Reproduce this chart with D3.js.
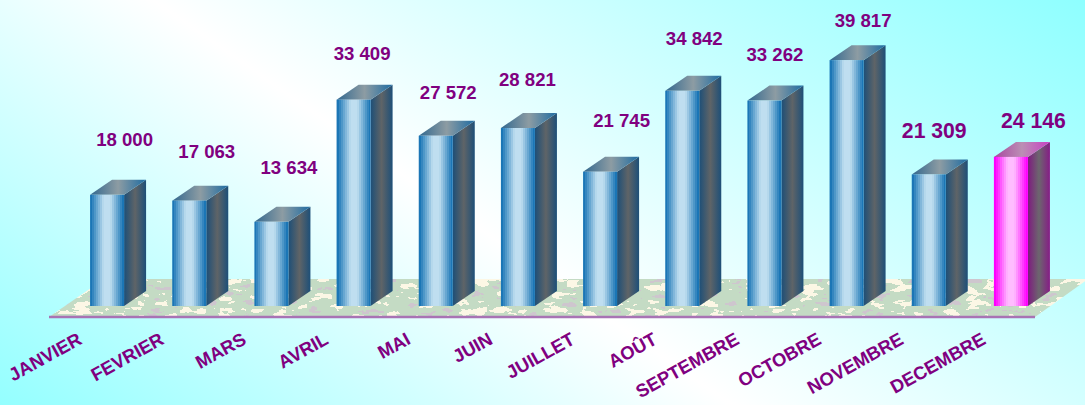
<!DOCTYPE html>
<html>
<head>
<meta charset="utf-8">
<script src="https://cdn.jsdelivr.net/npm/d3@7"></script>
<style>
html, body { margin: 0; padding: 0; overflow: hidden; background: #fff; }
svg { display: block; }
text { font-family: "Liberation Sans", Arial, sans-serif; font-weight: bold; fill: #800080; }
</style>
</head>
<body>
<script>
// data
var months = ["JANVIER", "FEVRIER", "MARS", "AVRIL", "MAI", "JUIN", "JUILLET", "AOÛT", "SEPTEMBRE", "OCTOBRE", "NOVEMBRE", "DECEMBRE"];
var values = [18000, 17063, 13634, 33409, 27572, 28821, 21745, 34842, 33262, 39817, 21309, 24146];
var valueLabels = ["18 000", "17 063", "13 634", "33 409", "27 572", "28 821", "21 745", "34 842", "33 262", "39 817", "21 309", "24 146"];

// the labels float at uneven heights over the bars: [dx, dy from bar top]
var labelNudge = [[0.5, -49], [0.5, -43], [0.5, -48], [-8.5, -40], [-4.5, -37], [-7.5, -42], [4.5, -45], [-5, -46], [-6.5, -40], [-0.5, -33], [-11.5, -36], [5.5, -29]];
var bigLabels = ["NOVEMBRE", "DECEMBRE"];

var width = 1085, height = 405,
    baseY = 306, floorY = 317,
    depthX = 22, depthY = 15;

var x = d3.scaleBand().domain(months).range([66, 1052]).paddingInner(0.586).paddingOuter(0.293);
var y = d3.scaleLinear().domain([0, 40000]).range([baseY, baseY - 247]);

var svg = d3.select("body").append("svg").attr("width", width).attr("height", height);
var defs = svg.append("defs");

function addGradient(id, stops, attrs) {
    var g = defs.append("linearGradient").attr("id", id);
    Object.keys(attrs || {}).forEach(function (k) { g.attr(k, attrs[k]); });
    stops.forEach(function (s) {
        g.append("stop").attr("offset", s[0]).attr("stop-color", s[1]);
    });
}

// background, cyan corners bottom-left and top-right
addGradient("bg", [[0, "#94ffff"], [0.44, "#ffffff"], [1, "#8effff"]],
    {gradientUnits: "userSpaceOnUse", x1: 208, y1: 551, x2: 755, y2: -231});

// banded front faces
function bands(edge, mid, n) {
    var c = d3.interpolateRgb(edge, mid), out = [];
    for (var i = 0; i < n; i++) {
        var t = Math.min(1, 1.25 * (1 - Math.abs(2 * i / (n - 1) - 1)));
        out.push([i / n, c(t)]);
        out.push([(i + 1) / n, c(t)]);
    }
    return out;
}
addGradient("frontBlue", bands("#1b76b6", "#bfdef0", 17));
addGradient("sideBlue", [[0, "#1d4f78"], [0.5, "#5f6467"], [1, "#1d4f78"]]);
addGradient("topBlue", [[0, "#32688f"], [0.5, "#8d9ca3"], [1, "#1e6ca2"]]);
addGradient("frontPink", bands("#ff00ff", "#ffbcff", 17));
addGradient("sidePink", [[0, "#7f1a80"], [0.5, "#6c666e"], [1, "#861c86"]]);
addGradient("topPink", [[0, "#a8479f"], [0.5, "#bb8fb4"], [1, "#c93fc4"]]);

// mottled floor: one noise channel pushed through a three colour table
var f = defs.append("filter").attr("id", "mottle")
    .attr("filterUnits", "userSpaceOnUse")
    .attr("x", 0).attr("y", 270).attr("width", width).attr("height", 55)
    .attr("color-interpolation-filters", "sRGB");
f.append("feTurbulence").attr("type", "fractalNoise")
    .attr("baseFrequency", "0.055 0.13").attr("numOctaves", 3).attr("seed", 11).attr("result", "n");
f.append("feColorMatrix").attr("in", "n").attr("type", "matrix")
    .attr("values", "1 0 0 0 0  1 0 0 0 0  1 0 0 0 0  0 0 0 0 1").attr("result", "grey");
var ct = f.append("feComponentTransfer").attr("in", "grey").attr("result", "c");
function table(mauve, green, cream) {
    var out = [];
    for (var i = 0; i < 20; i++) out.push(i < 6 ? mauve : (i < 12 ? green : cream));
    return out.join(" ");
}
ct.append("feFuncR").attr("type", "discrete").attr("tableValues", table(0.81, 0.77, 0.99));
ct.append("feFuncG").attr("type", "discrete").attr("tableValues", table(0.78, 0.86, 0.97));
ct.append("feFuncB").attr("type", "discrete").attr("tableValues", table(0.81, 0.77, 0.90));
f.append("feComposite").attr("in", "c").attr("in2", "SourceGraphic").attr("operator", "in");

svg.append("rect").attr("width", width).attr("height", height).attr("fill", "url(#bg)");

svg.append("polygon")
    .attr("points", [[49, floorY], [1035, floorY], [1088, 279], [104, 279]].join(" "))
    .attr("fill", "#000")
    .attr("filter", "url(#mottle)");

svg.append("line")
    .attr("x1", 49).attr("x2", 1035)
    .attr("y1", floorY).attr("y2", floorY)
    .attr("stroke", "#a873b4").attr("stroke-width", 2.5);

// bars
var bars = svg.selectAll(".bar").data(months).enter().append("g").attr("class", "bar");

function isLast(d) { return d === "DECEMBRE"; }
function yOf(i) { return y(values[i]); }

bars.append("path")
    .attr("fill", function (d) { return isLast(d) ? "url(#sidePink)" : "url(#sideBlue)"; })
    .attr("d", function (d, i) {
        var r = x(d) + x.bandwidth();
        return "M" + r + "," + baseY + "L" + r + "," + yOf(i) +
            "l" + depthX + "," + (-depthY) + "L" + (r + depthX) + "," + (baseY - depthY) + "Z";
    });

bars.append("path")
    .attr("fill", function (d) { return isLast(d) ? "url(#topPink)" : "url(#topBlue)"; })
    .attr("d", function (d, i) {
        return "M" + x(d) + "," + yOf(i) + "l" + x.bandwidth() + ",0l" + depthX + "," + (-depthY) +
            "l" + (-x.bandwidth()) + ",0Z";
    });

bars.append("rect")
    .attr("x", function (d) { return x(d); })
    .attr("y", function (d, i) { return yOf(i); })
    .attr("width", x.bandwidth())
    .attr("height", function (d, i) { return baseY - yOf(i); })
    .attr("fill", function (d) { return isLast(d) ? "url(#frontPink)" : "url(#frontBlue)"; });

// value labels
svg.selectAll(".val").data(months).enter().append("text")
    .attr("class", "val")
    .attr("text-anchor", "middle")
    .attr("x", function (d, i) { return x(d) + x.bandwidth() / 2 + 17 + labelNudge[i][0]; })
    .attr("y", function (d, i) { return yOf(i) + labelNudge[i][1]; })
    .attr("font-size", function (d) { return bigLabels.indexOf(d) >= 0 ? 21.2 : 18.6; })
    .text(function (d, i) { return valueLabels[i]; });

// month labels
var axis = svg.append("g")
    .attr("transform", "translate(0," + floorY + ")")
    .call(d3.axisBottom(x).tickSize(0).tickPadding(0));
axis.select(".domain").remove();
axis.selectAll("text")
    .attr("font-size", 18.4)
    .attr("fill", "#800080")
    .attr("font-family", '"Liberation Sans", Arial, sans-serif')
    .attr("text-anchor", "end")
    .attr("dy", 0)
    .attr("transform", "translate(-24,26) rotate(-29)");
</script>
</body>
</html>
